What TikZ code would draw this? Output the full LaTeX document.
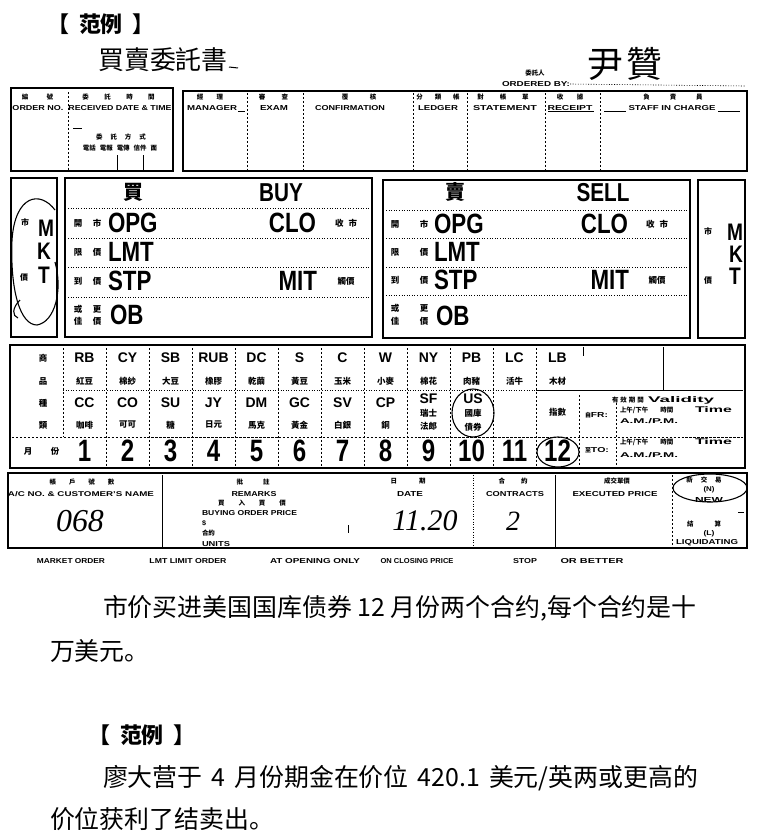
\documentclass[tikz,border=0pt]{standalone}
\usepackage{fontspec}
\usepackage{graphicx}
\setmainfont{Liberation Sans}
\newfontfamily\cjk{Noto Sans CJK SC}
\newfontfamily\hwf{Liberation Serif}
\newcommand{\fs}[1]{\fontsize{#1}{#1}\selectfont}
\newcommand{\cnd}[3][0.8]{\scalebox{#1}[1]{\fs{#2}\bfseries #3}}
\newcommand{\wl}[3][5]{\resizebox{#2bp}{#1bp}{\fs{7}\bfseries #3}}
\newcommand{\hs}[1]{\hspace{#1bp}}
\tikzset{
  frame/.style={line width=1.6pt},
  box/.style={line width=1.3pt},
  dsh/.style={line width=0.6pt, dash pattern=on 2.5pt off 1.5pt},
  dotl/.style={line width=0.6pt, dash pattern=on 1pt off 1.6pt},
  hand/.style={line width=1.1pt},
  clab/.style={font=\cjk\bfseries\fs{6.5}},
  cn/.style={font=\cjk\bfseries\fs{8.5}},
  code/.style={font=\bfseries\fs{14}},
  body/.style={font=\cjk\fs{25}, anchor=west},
}
\begin{document}
\begin{tikzpicture}[x=1bp,y=-1bp, every node/.style={inner sep=0pt,outer sep=0pt}]
\useasboundingbox (0,0) rectangle (758,834);
% ---------- title area
\node[font=\cjk\bfseries\fs{22}] (ex1) at (101,24) {【\hs{10}范例\hs{10}】};
\node[font=\cjk\fs{26}] (title) at (163,60) {買賣委託書};
\coordinate (tu1) at (229,67); \coordinate (tu2) at (238,68);
\draw[line width=1pt] (tu1) -- (tu2);
\node[clab] (obcn) at (535,73) {委託人};
\node (ob) at (536,84) {\wl{68}{ORDERED BY:}};
\coordinate (obe) at (745,86);
\draw[dotl] (ob.east) -- (obe);
\node[font=\cjk\fs{36}] (sig) at (625,64) {尹\hs{4}贊};
% ---------- header boxes
\draw[frame] (11,88) rectangle (173,171);
\draw[frame] (183,91) rectangle (747,171);
\draw[dsh] (68,92) -- (68,171);
\node[clab] (h1c) at (37.5,97) {編\hs{18.5}號};
\node (h1e) at (38,108) {\wl{51}{ORDER NO.}};
\node[clab] (h2c) at (118.5,97) {委\hs{15.5}託\hs{15.5}時\hs{15.5}間};
\node (h2e) at (120,108) {\wl{103}{RECEIVED DATE \& TIME}};
\draw[line width=0.8pt] (73,128) -- (82,128);
\node[clab] (h2d) at (121,137) {委\hs{8}託\hs{8}方\hs{8}式};
\node[clab] (h2f) at (120,148) {電話\hs{4}電報\hs{4}電傳\hs{4}信件\hs{4}面};
\draw[line width=0.7pt] (117,155) -- (117,171);
\draw[line width=0.7pt] (143,155) -- (143,171);
\foreach \xx in {247,303,413,467,545,600} \draw[dsh] (\xx,93) -- (\xx,171);
\node[clab] (hc1) at (210,97) {經\hs{13.5}理};
\node (he1) at (212,108) {\wl{50}{MANAGER}};
\node[clab] (hc2) at (273.5,97) {審\hs{16.5}查};
\node (he2) at (274,108) {\wl{28}{EXAM}};
\node[clab] (hc3) at (359,97) {覆\hs{21.5}核};
\node (he3) at (350,108) {\wl{70}{CONFIRMATION}};
\node[clab] (hc4) at (438,97) {分\hs{12}類\hs{12}帳};
\node (he4) at (438,108) {\wl{40}{LEDGER}};
\node[clab] (hc5) at (503,97) {對\hs{16}帳\hs{16}單};
\node (he5) at (505,108) {\wl{64}{STATEMENT}};
\node[clab] (hc6) at (570,97) {收\hs{13.5}據};
\node (he6) at (570,108) {\wl{45}{RECEIPT}};
\node[clab] (hc7) at (673,97) {負\hs{20}責\hs{20}員};
\node (he7) at (672,108) {\wl{87}{STAFF IN CHARGE}};
\draw[line width=0.6pt] (604,111) -- (626,111) (718,111) -- (740,111) (548,111) -- (594,111) (238,111) -- (245,111);
% ---------- buy / sell
\draw[box] (11,178) rectangle (57,337);
\draw[box] (65,178) rectangle (372,337);
\draw[box] (383,180) rectangle (690,338);
\draw[box] (698,180) rectangle (745,338);
% left MKT
\node[font=\cjk\bfseries\fs{8}] (lm1) at (25,222) {市};
\node (lmM) at (46,228) {\cnd{24}{M}};
\node (lmK) at (44,251) {\cnd{24}{K}};
\node (lmT) at (44,275) {\cnd{24}{T}};
\node[font=\cjk\bfseries\fs{8}] (lm2) at (24,277) {價};
\draw[hand] (55,210) .. controls (40,190) and (15,195) .. (12,240) .. controls (10,290) and (20,325) .. (37,325) .. controls (55,322) and (63,290) .. (55,262);
\draw[hand] (20,300) .. controls (12,308) and (12,316) .. (18,318);
% right MKT
\node[font=\cjk\bfseries\fs{8}] (rm1) at (708,231) {市};
\node (rmM) at (735,232) {\cnd{24}{M}};
\node (rmK) at (736,254) {\cnd{24}{K}};
\node (rmT) at (735,276) {\cnd{24}{T}};
\node[font=\cjk\bfseries\fs{8}] (rm2) at (708,280) {價};
% buy box
\node[font=\cjk\bfseries\fs{20}] (buyc) at (133,192) {買};
\node (buye) at (281,193) {\cnd{26}{BUY}};
\foreach \yy in {208,238,267,297} \draw[dotl] (68,\yy) -- (369,\yy);
\foreach \yy/\a/\b [count=\k] in {223/開/市, 252/限/價, 281/到/價}{
  \node[cn] (bl\k a) at (78,\yy) {\a};
  \node[cn] (bl\k b) at (97,\yy) {\b};
}
\node[cn] (bl4a) at (78,309) {或}; \node[cn] (bl4b) at (97,309) {更};
\node[cn] (bl4c) at (78,321) {佳}; \node[cn] (bl4d) at (97,321) {價};
\node[anchor=west] (bOPG) at (108,223) {\cnd{28}{OPG}};
\node[anchor=west] (bLMT) at (108,252) {\cnd{28}{LMT}};
\node[anchor=west] (bSTP) at (108,281) {\cnd{28}{STP}};
\node[anchor=west] (bOB) at (110,315) {\cnd{28}{OB}};
\node[anchor=east] (bCLO) at (316,223) {\cnd{28}{CLO}};
\node[anchor=east] (bMIT) at (317,281) {\cnd{28}{MIT}};
\node[cn] (bsc) at (346,223) {收\hs{5}市};
\node[cn] (bct) at (346,281) {觸價};
% sell box
\node[font=\cjk\bfseries\fs{20}] (sellc) at (455,192) {賣};
\node (selle) at (603,193) {\cnd{26}{SELL}};
\foreach \yy in {210,238,267,295} \draw[dotl] (386,\yy) -- (687,\yy);
\foreach \yy/\a/\b [count=\k] in {224/開/市, 252/限/價, 280/到/價}{
  \node[cn] (sl\k a) at (395,\yy) {\a};
  \node[cn] (sl\k b) at (424,\yy) {\b};
}
\node[cn] (sl4a) at (395,308) {或}; \node[cn] (sl4b) at (424,308) {更};
\node[cn] (sl4c) at (395,321) {佳}; \node[cn] (sl4d) at (424,321) {價};
\node[anchor=west] (sOPG) at (434,224) {\cnd{28}{OPG}};
\node[anchor=west] (sLMT) at (434,252) {\cnd{28}{LMT}};
\node[anchor=west] (sSTP) at (434,280) {\cnd{28}{STP}};
\node[anchor=west] (sOB) at (436,316) {\cnd{28}{OB}};
\node[anchor=east] (sCLO) at (628,224) {\cnd{28}{CLO}};
\node[anchor=east] (sMIT) at (629,280) {\cnd{28}{MIT}};
\node[cn] (ssc) at (657,224) {收\hs{5}市};
\node[cn] (sct) at (657,280) {觸價};
% ---------- commodities
\draw[frame] (10,345) rectangle (745,468);
\node[cn] (g1) at (43,358) {商};
\node[cn] (g2) at (43,381) {品};
\node[cn] (g3) at (43,403) {種};
\node[cn] (g4) at (43,425) {類};
\node[cn] (m1) at (28,451) {月};
\node[cn] (m2) at (55,451) {份};
\draw[dsh] (63,348) -- (63,437);
\foreach \k in {1,...,11} \draw[dsh] ({63+43*\k},348) -- ({63+43*\k},466);
\draw[dsh] (579,395) -- (579,466);
\draw[line width=0.7pt] (583,347) -- (583,356);
\draw[line width=0.9pt] (663,347) -- (663,390);
\draw[dotl] (63,390) -- (536,390);
\draw[line width=0.9pt] (536,390) -- (743,390);
\draw[dsh] (12,437) -- (743,437);
\draw[dsh] (616,403) -- (616,466);
\foreach \cd/\cc [count=\k] in {RB/紅豆, CY/棉紗, SB/大豆, RUB/橡膠, DC/乾繭, S/黃豆, C/玉米, W/小麥, NY/棉花, PB/肉豬, LC/活牛, LB/木材}{
  \node[code] (ca\k) at ({63+43*(\k-0.5)},358) {\cd};
  \node[cn] (cb\k) at ({63+43*(\k-0.5)},381) {\cc};
}
\foreach \cd/\cc [count=\k] in {CC/咖啡, CO/可可, SU/糖, JY/日元, DM/馬克, GC/黃金, SV/白銀, CP/銅}{
  \node[code] (cc\k) at ({63+43*(\k-0.5)},403) {\cd};
  \node[cn] (cd\k) at ({63+43*(\k-0.5)},425) {\cc};
}
\node[code] (cc9) at (428.5,399) {SF};
\node[cn] (cd9a) at (428.5,413) {瑞士};
\node[cn] (cd9b) at (428.5,426) {法郎};
\node[code] (cc10) at (473,399) {US};
\node[cn] (cd10a) at (473,413) {國庫};
\node[cn] (cd10b) at (473,427) {債券};
\node[cn] (cd12) at (557.5,412) {指數};
\draw[hand] (473,413) ellipse [x radius=21, y radius=24];
\foreach \k in {1,...,12} \node (n\k) at ({63+43*(\k-0.5)},451) {\cnd[0.78]{31}{\k}};
\draw[hand] (558,452) ellipse [x radius=21, y radius=15];
\node[clab, anchor=west] (valc) at (612,400) {有\hs{2}效\hs{2}期\hs{2}間};
\node[anchor=west] (vale) at (648,400) {\wl[6]{66}{Validity}};
\node[anchor=west] (fr) at (585,415) {{\cjk\bfseries\fs{6}自}\wl{17}{FR:}};
\node[clab, anchor=west] (fr1) at (620,410) {上午/下午\hs{12}時間};
\node[anchor=west] (fr1t) at (695,410) {\wl[6]{37}{Time}};
\node[anchor=west] (fr2) at (620,421) {\wl{58}{A.M./P.M.}};
\node[anchor=west] (to) at (585,450) {{\cjk\bfseries\fs{6}至}\wl{18}{TO:}};
\node[clab, anchor=west] (to1) at (620,442) {上午/下午\hs{12}時間};
\node[anchor=west] (to1t) at (695,442) {\wl[6]{37}{Time}};
\node[anchor=west] (to2) at (620,455) {\wl{58}{A.M./P.M.}};
% ---------- bottom box
\draw[frame] (8,473) rectangle (747,548);
\draw[line width=0.9pt] (162,475) -- (162,548);
\draw[dotl] (473,475) -- (473,548);
\draw[line width=0.9pt] (555,475) -- (555,548);
\draw[dsh] (672,475) -- (672,548);
\draw[line width=0.8pt] (348,525) -- (348,533);
\node[clab] (a1) at (82,482) {帳\hs{13}戶\hs{13}號\hs{13}數};
\node (a2) at (81,494) {\wl{146}{A/C NO. \& CUSTOMER'S NAME}};
\node[font=\hwf\itshape\fs{32}] (a3) at (80,521) {068};
\node[clab] (r1) at (253,482) {批\hs{20}註};
\node (r2) at (254,494) {\wl{45}{REMARKS}};
\node[clab] (r3) at (252,503) {買\hs{14}入\hs{14}買\hs{14}價};
\node[anchor=west] (r4) at (202,513) {\wl{95}{BUYING ORDER PRICE}};
\node[anchor=west] (r5) at (202,523) {\wl{4}{\$}};
\node[clab, anchor=west] (r6) at (202,533) {合約};
\node[anchor=west] (r7) at (202,544) {\wl{28}{UNITS}};
\node[clab] (d1) at (408,481) {日\hs{22}期};
\node (d2) at (410,494) {\wl{26}{DATE}};
\node[font=\hwf\itshape\fs{30}] (d3) at (425,521) {11.20};
\node[clab] (k1) at (513,481) {合\hs{16}約};
\node (k2) at (515,494) {\wl{58}{CONTRACTS}};
\node[font=\hwf\itshape\fs{28}] (k3) at (513,521) {2};
\node[clab] (e1) at (617,481) {成交單價};
\node (e2) at (615,494) {\wl{85}{EXECUTED PRICE}};
\node[clab] (w1) at (704,480) {新\hs{8}交\hs{8}易};
\node (w2) at (709,490) {\wl{11}{(N)}};
\node (w3) at (709,500) {\wl{28}{NEW}};
\draw[line width=0.7pt] (738,512) -- (744,512);
\node[clab] (w4) at (704,524) {結\hs{21}算};
\node (w5) at (709,534) {\wl{11}{(L)}};
\node (w6) at (707,543) {\wl{62}{LIQUIDATING}};
\draw[hand] (710,488) ellipse [x radius=37, y radius=14];
% footer
\foreach \xx/\ww/\tt [count=\k] in {71/68/MARKET ORDER, 188/77/LMT LIMIT ORDER, 315/90/AT OPENING ONLY, 417/73/ON CLOSING PRICE, 525/24/STOP, 592/63/OR BETTER}
  \node (ft\k) at (\xx,561) {\wl{\ww}{\tt}};
% ---------- body text
\node[body] (l1) at (103,608) {市价买进美国国库债券 12 月份两个合约,每个合约是十};
\node[body] (l2) at (50,651) {万美元。};
\node[font=\cjk\bfseries\fs{22}] (ex2) at (142,735) {【\hs{10}范例\hs{10}】};
\node[body] (l4) at (103,778) {廖大营于\hs{9}4\hs{9}月份期金在价位\hs{9}420.1\hs{9}美元/英两或更高的};
\node[body] (l5) at (50,819) {价位获利了结卖出。};
\end{tikzpicture}
\end{document}
